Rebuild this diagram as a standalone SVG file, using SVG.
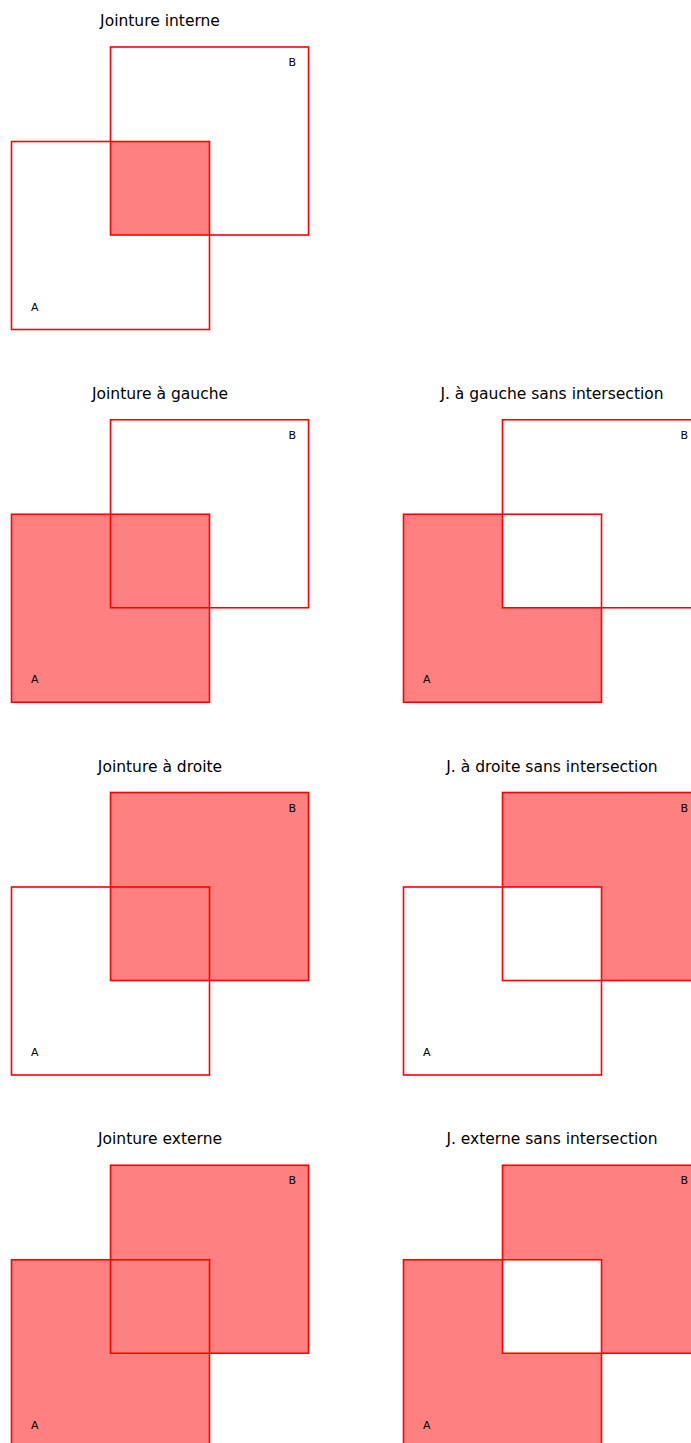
<svg xmlns="http://www.w3.org/2000/svg" width="691" height="1443" viewBox="0 0 691 1443">
<style>
.t{font-family:"DejaVu Sans",sans-serif;font-size:15.5px;fill:#000;text-anchor:middle}
.l{font-family:"DejaVu Sans",sans-serif;font-size:11px;fill:#000}
.f{fill:#ff8080;stroke:none}
.o{fill:none;stroke:#ff0000;stroke-width:1.6}
</style>
<defs>
<g id="outl">
<rect class="o" x="11.5" y="141.5" width="198" height="188"/>
<rect class="o" x="110.5" y="47" width="198" height="188"/>
<text class="l" x="31" y="310.5">A</text>
<text class="l" x="288.5" y="66">B</text>
</g>
</defs>
<rect width="691" height="1443" fill="#fff"/>
<g id="inner">
<text class="t" x="160" y="26">Jointure interne</text>
<rect class="f" x="110.5" y="141.5" width="99" height="93.5"/>
<use href="#outl"/>
</g>
<g id="left" transform="translate(0,372.75)">
<text class="t" x="160" y="26">Jointure à gauche</text>
<rect class="f" x="11.5" y="141.5" width="198" height="188"/>
<use href="#outl"/>
</g>
<g id="left-excl" transform="translate(392,372.75)">
<text class="t" x="160" y="26">J. à gauche sans intersection</text>
<path class="f" d="M11.5,141.5H110.5V235H209.5V329.5H11.5Z"/>
<use href="#outl"/>
</g>
<g id="right" transform="translate(0,745.5)">
<text class="t" x="160" y="26">Jointure à droite</text>
<rect class="f" x="110.5" y="47" width="198" height="188"/>
<use href="#outl"/>
</g>
<g id="right-excl" transform="translate(392,745.5)">
<text class="t" x="160" y="26">J. à droite sans intersection</text>
<path class="f" d="M110.5,47H308.5V235H209.5V141.5H110.5Z"/>
<use href="#outl"/>
</g>
<g id="outer" transform="translate(0,1118.25)">
<text class="t" x="160" y="26">Jointure externe</text>
<path class="f" d="M11.5,141.5H110.5V47H308.5V235H209.5V329.5H11.5Z"/>
<use href="#outl"/>
</g>
<g id="outer-excl" transform="translate(392,1118.25)">
<text class="t" x="160" y="26">J. externe sans intersection</text>
<path class="f" fill-rule="evenodd" d="M11.5,141.5H209.5V329.5H11.5Z M110.5,47H308.5V235H110.5Z"/>
<use href="#outl"/>
</g>
<g id="connectors"/>
</svg>
